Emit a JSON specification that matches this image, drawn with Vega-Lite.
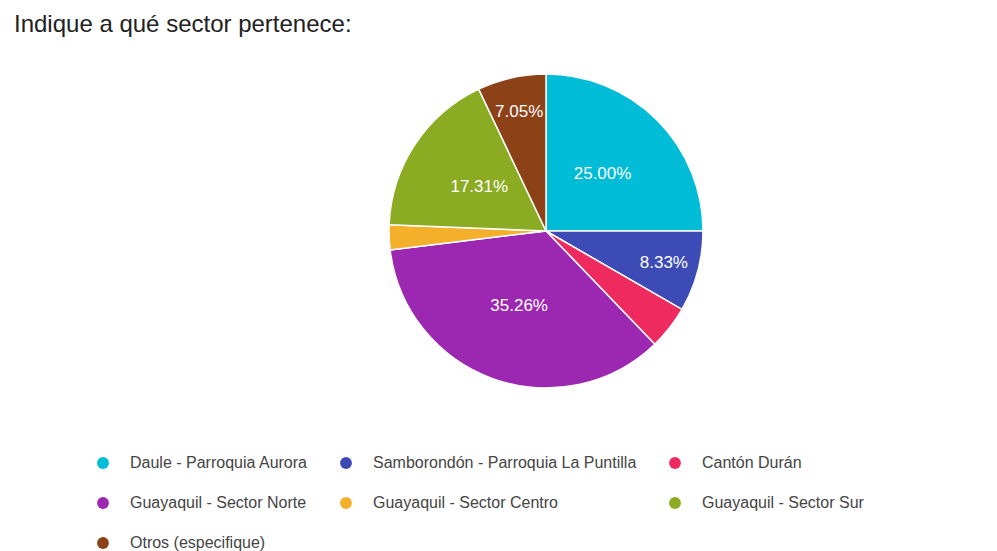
{
  "$schema": "https://vega.github.io/schema/vega-lite/v6.json",
  "width": 902,
  "height": 310,
  "padding": {"left": 14, "top": 13, "right": 0, "bottom": 0},
  "background": "white",
  "title": {
    "text": "Indique a qué sector pertenece:",
    "anchor": "start",
    "dx": -81,
    "offset": 34,
    "font": "Liberation Sans",
    "fontSize": 24,
    "fontWeight": "normal",
    "color": "#222222"
  },
  "config": {"view": {"stroke": null}, "legend": {"gridAlign": "none"}},
  "data": {
    "values": [
      {"orden": 1, "sector": "Daule - Parroquia Aurora", "proporcion": 0.2500},
      {"orden": 2, "sector": "Samborondón - Parroquia La Puntilla", "proporcion": 0.0833},
      {"orden": 3, "sector": "Cantón Durán", "proporcion": 0.0449},
      {"orden": 4, "sector": "Guayaquil - Sector Norte", "proporcion": 0.3526},
      {"orden": 5, "sector": "Guayaquil - Sector Centro", "proporcion": 0.0256},
      {"orden": 6, "sector": "Guayaquil - Sector Sur", "proporcion": 0.1731},
      {"orden": 7, "sector": "Otros (especifique)", "proporcion": 0.0705}
    ]
  },
  "encoding": {
    "theta": {"field": "proporcion", "type": "quantitative", "stack": true},
    "order": {"field": "orden", "type": "quantitative"}
  },
  "layer": [
    {
      "mark": {"type": "arc", "outerRadius": 157, "stroke": "white", "strokeWidth": 1.5},
      "encoding": {
        "color": {
          "field": "sector",
          "type": "nominal",
          "sort": null,
          "scale": {
            "domain": ["Daule - Parroquia Aurora", "Samborondón - Parroquia La Puntilla", "Cantón Durán", "Guayaquil - Sector Norte", "Guayaquil - Sector Centro", "Guayaquil - Sector Sur", "Otros (especifique)"],
            "range": ["#00BCD6", "#3C4BB5", "#EE2A5F", "#9C27B0", "#F4B02A", "#8BAB23", "#8D4117"]
          },
          "legend": {
            "title": null,
            "orient": "bottom",
            "direction": "horizontal",
            "columns": 3,
            "gridAlign": "none",
            "offset": 69,
            "symbolType": "circle",
            "symbolSize": 140,
            "symbolStrokeWidth": 0,
            "labelFont": "Liberation Sans",
            "labelFontSize": 16,
            "labelColor": "#444444",
            "labelOffset": 19,
            "labelLimit": 400,
            "columnPadding": 30,
            "rowPadding": 24
          }
        }
      }
    },
    {
      "mark": {"type": "text", "radius": 80, "font": "Liberation Sans", "fontSize": 17, "color": "white"},
      "encoding": {
        "text": {
          "condition": {"test": "datum.proporcion >= 0.1", "field": "proporcion", "type": "quantitative", "format": ".2%"},
          "value": ""
        }
      }
    },
    {
      "mark": {"type": "text", "radius": 122, "font": "Liberation Sans", "fontSize": 17, "color": "white"},
      "encoding": {
        "text": {
          "condition": {"test": "datum.proporcion >= 0.05 && datum.proporcion < 0.1", "field": "proporcion", "type": "quantitative", "format": ".2%"},
          "value": ""
        }
      }
    }
  ]
}
